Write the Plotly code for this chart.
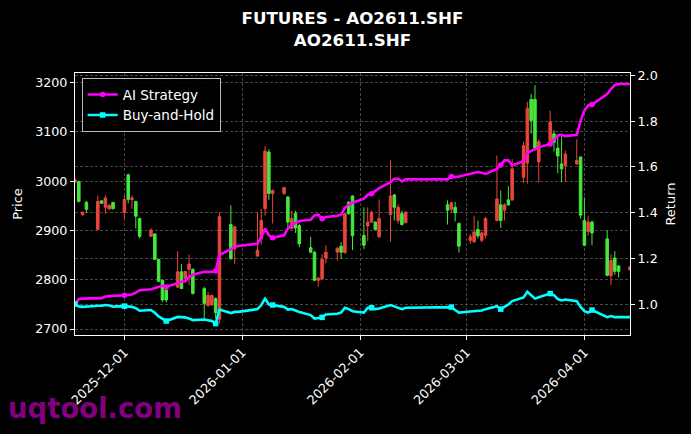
import plotly.graph_objects as go

# ---------------- data ----------------
dates = [
    "2025-11-18", "2025-11-19", "2025-11-20", "2025-11-21", "2025-11-24", "2025-11-25",
    "2025-11-26", "2025-11-27", "2025-11-28", "2025-12-01", "2025-12-02", "2025-12-03",
    "2025-12-04", "2025-12-05", "2025-12-08", "2025-12-09", "2025-12-10", "2025-12-11",
    "2025-12-12", "2025-12-15", "2025-12-16", "2025-12-17", "2025-12-18", "2025-12-19",
    "2025-12-22", "2025-12-23", "2025-12-24", "2025-12-25", "2025-12-26", "2025-12-29",
    "2025-12-30", "2025-12-31", "2026-01-05", "2026-01-06", "2026-01-07", "2026-01-08",
    "2026-01-09", "2026-01-12", "2026-01-13", "2026-01-14", "2026-01-15", "2026-01-16",
    "2026-01-19", "2026-01-20", "2026-01-21", "2026-01-22", "2026-01-23", "2026-01-26",
    "2026-01-27", "2026-01-28", "2026-01-29", "2026-01-30", "2026-02-02", "2026-02-03",
    "2026-02-04", "2026-02-05", "2026-02-06", "2026-02-09", "2026-02-10", "2026-02-11",
    "2026-02-12", "2026-02-13", "2026-02-24", "2026-02-25", "2026-02-26", "2026-02-27",
    "2026-03-02", "2026-03-03", "2026-03-04", "2026-03-05", "2026-03-06", "2026-03-09",
    "2026-03-10", "2026-03-11", "2026-03-12", "2026-03-13", "2026-03-16", "2026-03-17",
    "2026-03-18", "2026-03-19", "2026-03-20", "2026-03-23", "2026-03-24", "2026-03-25",
    "2026-03-26", "2026-03-27", "2026-03-30", "2026-03-31", "2026-04-01", "2026-04-02",
    "2026-04-03", "2026-04-07", "2026-04-08", "2026-04-09", "2026-04-10", "2026-04-13",
]

open_price = [
    2998, 2999, 2932, 2957, 2902, 2960, 2947, 2944, 2957, 2937, 3013, 2963,
    2959, 2924, 2888, 2893, 2841, 2799, 2779, 2785, 2816, 2802, 2821, 2821,
    2782, 2748, 2749, 2762, 2720, 2912, 2863, None, 2848, 2883, 2944, 3059,
    2975, 2975, 2968, 2904, 2935, 2910, 2865, 2856, 2799, 2802, 2844, 2856,
    2868, 2855, 2957, 2970, 2890, 2909, 2917, 2917, 2887, 2932, 2972, 2920,
    2934, 2916, 2952, 2943, 2947, 2914, 2880, 2877, 2902, 2880, 2890, 2920,
    2952, 2941, 2962, 2962, 3008, 3037, 3166, 3166, 3039, 3082, 3096, 3067,
    3035, 3032, 3035, 3049, 2920, 2898, 2917, 2883, 2808, 2844, 2828, 2820,
]
high_price = [
    3006, 3001, 2938, 2960, 2971, 2961, 2971, 2953, 2958, 2971, 3015, 2971,
    2960, 2926, 2904, 2894, 2843, 2800, 2782, 2858, 2832, 2818, 2851, 2823,
    2786, 2775, 2770, 2764, 2937, 2951, 2909, None, 2937, 2944, 3071, 3065,
    2983, 2988, 2969, 2940, 2940, 2913, 2887, 2858, 2806, 2852, 2870, 2866,
    2876, 2936, 2960, 2971, 2947, 2947, 2940, 2918, 2963, 3042, 2974, 2953,
    2940, 2939, 2961, 2958, 2958, 2916, 2893, 2930, 2920, 2898, 2927, 3052,
    2981, 2955, 2990, 3045, 3080, 3161, 3177, 3195, 3085, 3143, 3103, 3091,
    3091, 3062, 3085, 3050, 2967, 2930, 2920, 2900, 2852, 2858, 2830, 2828,
]
low_price = [
    2996, 2957, 2930, 2935, 2900, 2954, 2934, 2941, 2943, 2924, 2955, 2944,
    2904, 2884, 2887, 2841, 2795, 2755, 2754, 2783, 2782, 2800, 2789, 2770,
    2721, 2745, 2747, 2721, 2711, 2840, 2832, None, 2847, 2872, 2930, 2962,
    2914, 2972, 2906, 2902, 2895, 2866, 2854, 2797, 2786, 2800, 2833, 2839,
    2842, 2853, 2932, 2860, 2862, 2878, 2915, 2900, 2885, 2877, 2920, 2914,
    2910, 2914, 2912, 2936, 2918, 2855, 2873, 2875, 2884, 2876, 2884, 2918,
    2905, 2920, 2950, 2960, 2996, 2995, 3096, 3062, 2997, 3079, 3060, 3016,
    2998, 2998, 3033, 2924, 2868, 2890, 2870, 2807, 2789, 2810, 2805, 2818,
]
close_price = [
    3003, 2959, 2937, 2943, 2959, 2955, 2966, 2951, 2944, 2963, 2963, 2966,
    2929, 2888, 2901, 2841, 2797, 2759, 2759, 2816, 2782, 2817, 2832, 2772,
    2752, 2768, 2768, 2733, 2928, 2843, 2907, None, 2860, 2920, 3061, 2975,
    2981, 2987, 2917, 2924, 2905, 2873, 2856, 2799, 2803, 2841, 2856, 2864,
    2856, 2934, 2934, 2889, 2870, 2917, 2937, 2902, 2924, 2970, 2947, 2947,
    2912, 2937, 2941, 2956, 2936, 2868, 2887, 2897, 2889, 2895, 2924, 2964,
    2920, 2952, 2952, 3025, 3072, 3148, 3123, 3067, 3080, 3120, 3079, 3051,
    3025, 3055, 3042, 2931, 2870, 2917, 2895, 2809, 2839, 2817, 2817, 2826,
]

ai_return = [
    1.000, 1.022, 1.024, 1.024, 1.024, 1.026, 1.033, 1.036, 1.036, 1.039, 1.040, 1.042,
    1.050, 1.061, 1.065, 1.070, 1.078, 1.080, 1.075, 1.094, 1.098, 1.100, 1.118, 1.128,
    1.141, 1.141, 1.141, 1.145, 1.215, 1.240, 1.250, 1.254, 1.264, 1.293, 1.330, 1.301,
    1.290, 1.301, 1.330, 1.345, 1.355, 1.363, 1.369, 1.388, 1.391, 1.373, 1.381, 1.386,
    1.391, 1.421, 1.434, 1.443, 1.461, 1.478, 1.482, 1.496, 1.507, 1.533, 1.548, 1.548,
    1.536, 1.545, 1.545, 1.558, 1.555, 1.558, 1.570, 1.576, 1.577, 1.574, 1.569, 1.591,
    1.608, 1.628, 1.628, 1.606, 1.624, 1.660, 1.670, 1.679, 1.685, 1.700, 1.718, 1.737,
    1.740, 1.734, 1.740, 1.802, 1.846, 1.868, 1.872, 1.918, 1.940, 1.958, 1.962, 1.962,
]
bh_return = [
    1.000, 0.990, 0.988, 0.990, 0.993, 0.993, 0.996, 0.994, 0.989, 0.991, 0.991, 0.988,
    0.982, 0.971, 0.974, 0.962, 0.946, 0.935, 0.926, 0.944, 0.944, 0.942, 0.937, 0.930,
    0.933, 0.929, 0.926, 0.915, 0.976, 0.961, 0.966, 0.966, 0.978, 0.996, 1.024, 0.998,
    0.996, 0.988, 0.976, 0.978, 0.972, 0.966, 0.952, 0.937, 0.939, 0.942, 0.955, 0.958,
    0.963, 0.984, 0.978, 0.969, 0.963, 0.984, 0.984, 0.978, 0.981, 0.996, 0.990, 0.984,
    0.978, 0.984, 0.985, 0.987, 0.974, 0.963, 0.968, 0.970, 0.971, 0.972, 0.978, 0.991,
    0.978, 0.987, 0.998, 1.013, 1.029, 1.054, 1.039, 1.024, 1.030, 1.046, 1.039, 1.022,
    1.016, 1.020, 1.013, 0.988, 0.969, 0.963, 0.974, 0.943, 0.948, 0.943, 0.943, 0.943,
]

price_ticks = [2700, 2800, 2900, 3000, 3100, 3200]
return_ticks = [1.0, 1.2, 1.4, 1.6, 1.8, 2.0]
month_ticks = ["2025-12-01", "2026-01-01", "2026-02-01", "2026-03-01", "2026-04-01"]

title_lines = ["FUTURES - AO2611.SHF", "AO2611.SHF"]
watermark = "uqtool.com"

# ---------------- styling ----------------
RED = "#e8463c"
GREEN = "#45e83c"
MAGENTA = "#ff00ff"
CYAN = "#00ffff"
GRID = "#474747"
FONT = "DejaVu Sans"
MARK_EVERY = 9

ai_marker_colors = [MAGENTA if i % MARK_EVERY == 0 else "rgba(0,0,0,0)" for i in range(len(dates))]
bh_marker_colors = [CYAN if i % MARK_EVERY == 0 else "rgba(0,0,0,0)" for i in range(len(dates))]

fig = go.Figure()

fig.add_trace(go.Candlestick(
    x=dates, open=open_price, high=high_price, low=low_price, close=close_price,
    increasing=dict(line=dict(color=RED, width=1), fillcolor=RED),
    decreasing=dict(line=dict(color=GREEN, width=1), fillcolor=GREEN),
    whiskerwidth=0, showlegend=False, hoverinfo="skip", yaxis="y",
))

fig.add_trace(go.Scatter(
    x=dates, y=ai_return, mode="lines+markers", name="AI Strategy", yaxis="y2",
    line=dict(color=MAGENTA, width=2.6),
    marker=dict(symbol="circle", size=5.5, color=ai_marker_colors, line=dict(width=0)),
))
fig.add_trace(go.Scatter(
    x=dates, y=bh_return, mode="lines+markers", name="Buy-and-Hold", yaxis="y2",
    line=dict(color=CYAN, width=2.6),
    marker=dict(symbol="square", size=5.5, color=bh_marker_colors, line=dict(width=0)),
))

axis_common = dict(
    showline=True, linecolor="white", linewidth=1,
    ticks="outside", ticklen=4, tickcolor="white", tickwidth=1,
    showgrid=True, gridcolor=GRID, gridwidth=0.8, griddash="3px,2px",
    zeroline=False, tickfont=dict(size=12.7, color="white", family=FONT),
)

fig.update_layout(
    width=691, height=434,
    paper_bgcolor="black", plot_bgcolor="black",
    margin=dict(l=75, r=61, t=73, b=99),
    font=dict(family=FONT, color="white", size=12.7),
    title=dict(
        text="<b>" + title_lines[0] + "</b><br><b>" + title_lines[1] + "</b>",
        x=0.5, xref="paper", xanchor="center",
        y=1 - 24 / 434, yref="container", yanchor="top",
        font=dict(size=16.7, color="white", family=FONT),
    ),
    boxgap=0.05,
    showlegend=True,
    legend=dict(
        x=0.012, y=0.98, xanchor="left", yanchor="top",
        bgcolor="rgba(0,0,0,0.85)", bordercolor="#bbbbbb", borderwidth=1,
        font=dict(size=13.5, color="white", family=FONT),
        tracegroupgap=0,
    ),
    xaxis=dict(
        type="date", range=[dates[0], dates[-1]],
        tickvals=month_ticks, ticktext=month_ticks, tickangle=-45,
        mirror=True, rangeslider=dict(visible=False),
        **axis_common,
    ),
    yaxis=dict(
        range=[2687.9, 3219.4], tickvals=price_ticks,
        title=dict(text="Price", standoff=9, font=dict(size=13, color="white", family=FONT)),
        **axis_common,
    ),
    yaxis2=dict(
        overlaying="y", side="right", range=[0.865, 2.010],
        tickvals=return_ticks, tickformat=".1f",
        title=dict(text="Return", standoff=9, font=dict(size=13, color="white", family=FONT)),
        **axis_common,
    ),
    annotations=[dict(
        text="<b>" + watermark + "</b>", xref="paper", yref="paper",
        x=(6 - 75) / 555, y=(335 - 408) / 262, xanchor="left", yanchor="middle",
        showarrow=False, font=dict(size=27.5, color="#800080", family=FONT),
    )],
)

fig.write_html(
    "out.html",
    config={"displayModeBar": False},
    post_script="document.body.style.margin='0px'; document.body.style.padding='0px';",
)
